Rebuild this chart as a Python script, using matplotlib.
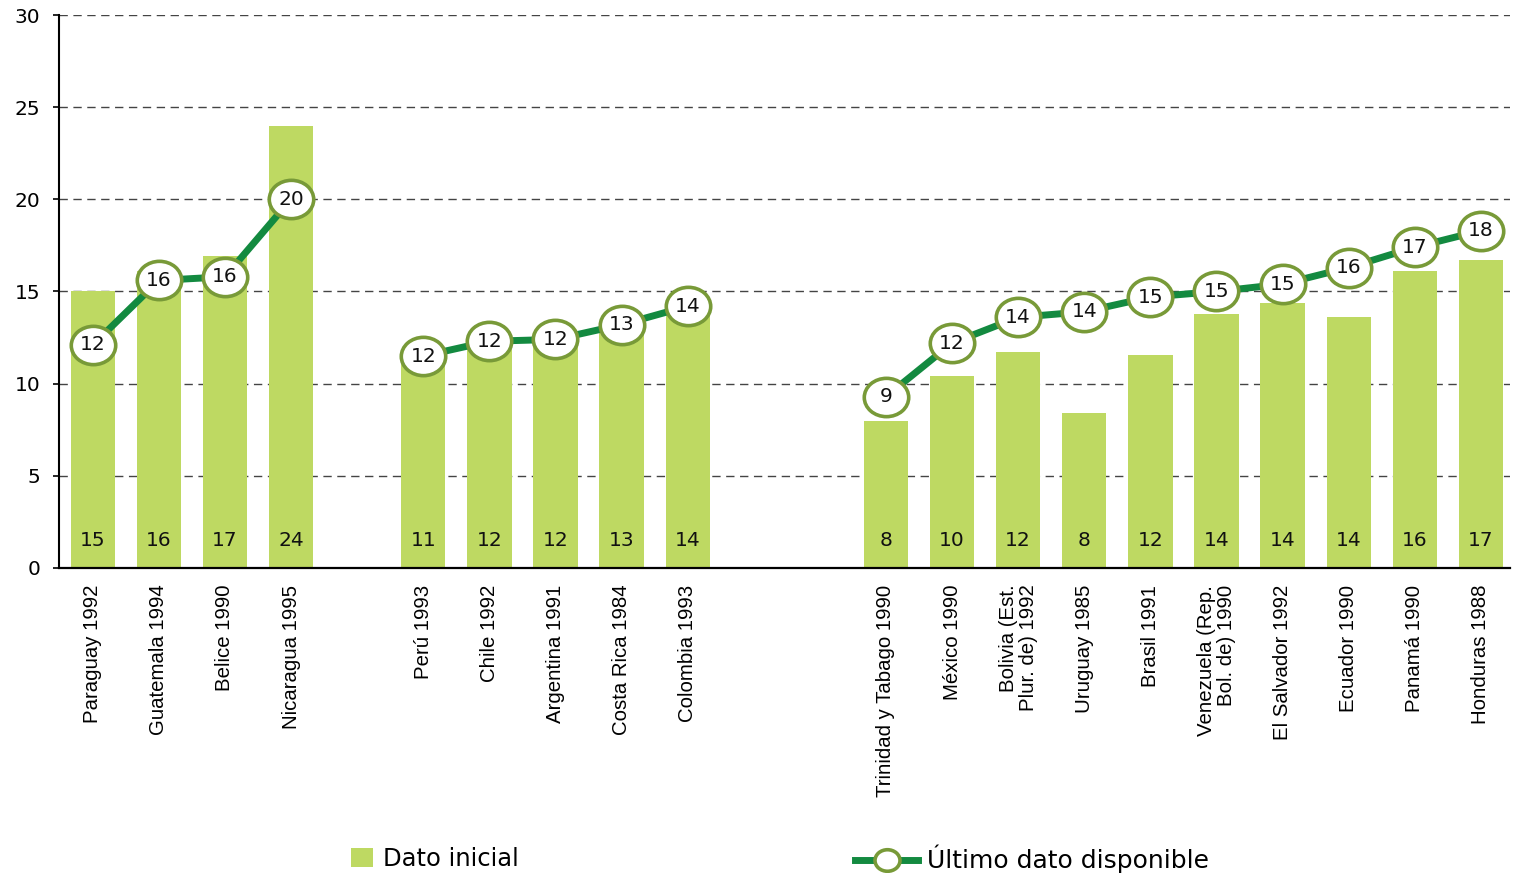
import matplotlib.pyplot as plt
import numpy as np
from matplotlib.path import Path
from matplotlib.transforms import Affine2D
from matplotlib.lines import Line2D
from matplotlib.patches import Patch


countries = ["Paraguay 1992", "Guatemala 1994", "Belice 1990", "Nicaragua 1995",
             "Perú 1993", "Chile 1992", "Argentina 1991", "Costa Rica 1984", "Colombia 1993",
             "Trinidad y Tabago 1990", "México 1990", "Bolivia (Est.\nPlur. de) 1992",
             "Uruguay 1985", "Brasil 1991", "Venezuela (Rep.\nBol. de) 1990",
             "El Salvador 1992", "Ecuador 1990", "Panamá 1990", "Honduras 1988"]
group_sizes = [4, 5, 10]

# Dato inicial (bars)
initial = [15.0, 16.1, 16.9, 24.0,
           11.3, 11.9, 12.0, 12.8, 14.1,
           8.0, 10.4, 11.7, 8.4, 11.55, 13.8, 14.4, 13.6, 16.1, 16.7]
# Ultimo dato disponible (line)
latest = [12.1, 15.6, 15.8, 20.0,
          11.5, 12.3, 12.4, 13.2, 14.2,
          9.3, 12.2, 13.6, 13.9, 14.7, 15.0, 15.4, 16.3, 17.4, 18.3]

bar_color = "#bed962"
line_color = "#138a40"
ring_color = "#789a38"

# x positions: groups separated by empty slots
pos = []
start = 0
for i, n in enumerate(group_sizes):
    pos.extend(range(start, start + n))
    start += n + (1 if i == 0 else 2)
pos = np.array(pos)

ell = Path.unit_circle().transformed(Affine2D().scale(1.16, 1.0))

fig = plt.figure(figsize=(15.18, 8.73), dpi=100)
ax = fig.add_axes([0.0389, 0.3494, 0.9558, 0.6334])

ax.bar(pos, initial, width=0.67, color=bar_color, zorder=2)

idx = 0
for n in group_sizes:
    sl = slice(idx, idx + n)
    ax.plot(pos[sl], latest[sl], color=line_color, lw=5, zorder=3,
            solid_capstyle="round")
    ax.plot(pos[sl], latest[sl], ls="none", marker=ell, markersize=32,
            markerfacecolor="white", markeredgecolor=ring_color,
            markeredgewidth=2.6, zorder=4)
    idx += n

for x, b, l in zip(pos, initial, latest):
    ax.text(x, 1.5, f"{int(b + 0.5)}", ha="center", va="center",
            fontsize=14.5, color="#111111", zorder=5)
    ax.text(x, l, f"{int(l + 0.5)}", ha="center", va="center",
            fontsize=14.5, color="#111111", zorder=5)

ax.set_ylim(0, 30)
ax.set_xlim(-0.51, 21.44)
ax.set_yticks(range(0, 31, 5))
ax.tick_params(axis="y", labelsize=14.5, length=4.5, width=1.2, pad=9)
ax.yaxis.grid(True, ls=(0, (6, 4)), color="#444444", lw=1.0)
ax.set_axisbelow(True)

ax.set_xticks(pos)
ax.set_xticklabels(countries, rotation=90, va="top", ha="center",
                   multialignment="right", linespacing=1.05,
                   family="Liberation Sans", fontsize=14.7)
ax.tick_params(axis="x", length=0, pad=12)

for s in ["top", "right"]:
    ax.spines[s].set_visible(False)
ax.spines["left"].set_linewidth(1.5)
ax.spines["bottom"].set_linewidth(1.6)

h1 = Patch(facecolor=bar_color, edgecolor="none")
h2 = Line2D([], [], color=line_color, lw=5, marker=ell, markersize=18,
            markerfacecolor="white", markeredgecolor=ring_color, markeredgewidth=2.6)
fig.legend([h1], ["Dato inicial"], loc="center left", bbox_to_anchor=(0.231, 0.016),
           frameon=False, fontsize=17.5, handlelength=0.9, handleheight=0.85,
           handletextpad=0.45, borderpad=0, borderaxespad=0)
fig.legend([h2], ["Último dato disponible"], loc="center left",
           bbox_to_anchor=(0.563, 0.016), frameon=False, fontsize=18,
           handlelength=2.55, handletextpad=0.35, borderpad=0, borderaxespad=0)

fig.savefig("out.png", dpi=100)
